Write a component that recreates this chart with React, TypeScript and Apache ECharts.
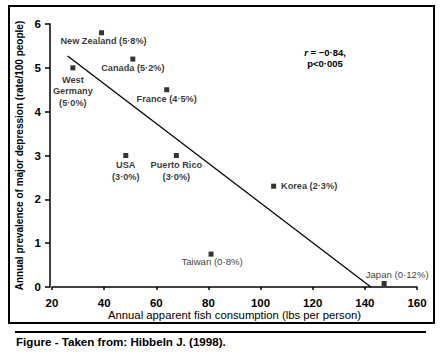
import React, { useEffect, useRef } from "react";
import * as echarts from "echarts";

// Data
const countries = ["New Zealand", "Canada", "West Germany", "France", "USA", "Puerto Rico", "Taiwan", "Korea", "Japan"];
const fishConsumption = [39, 51, 28, 64, 48.3, 67.7, 81, 105, 147.4];
const prevalence = [5.8, 5.2, 5.0, 4.5, 3.0, 3.0, 0.75, 2.3, 0.08];
const prevalenceLabels = ["5·8%", "5·2%", "5·0%", "4·5%", "3·0%", "3·0%", "0·8%", "2·3%", "0·12%"];
const regressionLine = [[26, 5.27], [142.3, 0]];
const xTicks = { min: 20, max: 160, interval: 20 };
const yTicks = { min: 0, max: 6, interval: 1 };

// Label layout (pixel offsets from marker centre), kept apart from data
const labelLayout: { text: (c: string, p: string) => string; dx: number; dy: number; bold: boolean }[] = [
  { text: (c, p) => `${c} (${p})`, dx: 2, dy: 8, bold: true },
  { text: (c, p) => `${c} (${p})`, dx: 0, dy: 9, bold: true },
  { text: (c, p) => `West\nGermany\n(${p})`, dx: 0, dy: 23.5, bold: true },
  { text: (c, p) => `${c} (${p})`, dx: 0, dy: 9, bold: true },
  { text: (c, p) => `${c}\n(${p})`, dx: 0, dy: 15.5, bold: true },
  { text: (c, p) => `${c}\n(${p})`, dx: 0, dy: 15.5, bold: true },
  { text: (c, p) => `${c} (${p})`, dx: 1, dy: 7, bold: false },
  { text: (c, p) => `${c} (${p})`, dx: 35.5, dy: 0, bold: true },
  { text: (c, p) => `${c} (${p})`, dx: 13, dy: -9, bold: false },
];

const FONT = "'Liberation Sans', Arial, Helvetica, sans-serif";

export default function App() {
  const ref = useRef<HTMLDivElement>(null);
  useEffect(() => {
    if (!ref.current) return;
    const chart = echarts.init(ref.current, null, { renderer: "svg" });
    const scatterData = countries.map((c, i) => {
      const l = labelLayout[i];
      return {
        value: [fishConsumption[i], prevalence[i]],
        name: c,
        label: {
          show: true,
          position: "inside",
          offset: [l.dx, l.dy],
          formatter: l.text(c, prevalenceLabels[i]),
          fontWeight: l.bold ? "bold" : "normal",
          fontSize: l.bold ? 9.2 : 9.6,
          lineHeight: 11.5,
          color: "#000",
          fontFamily: FONT,
          align: "center",
          verticalAlign: "middle",
        },
      };
    });
    chart.setOption({
      animation: false,
      backgroundColor: "#fff",
      textStyle: { fontFamily: FONT },
      grid: { left: 52, right: 27, top: 24, bottom: 69, containLabel: false },
      xAxis: {
        type: "value",
        min: xTicks.min,
        max: xTicks.max,
        interval: xTicks.interval,
        offset: 4,
        splitLine: { show: false },
        axisLine: { show: true, lineStyle: { color: "#000", width: 1.5 } },
        axisTick: { show: true, length: 3, lineStyle: { color: "#000", width: 1.5 } },
        axisLabel: { margin: 6, color: "#000", fontSize: 11.5, fontWeight: "bold", fontFamily: FONT },
        name: "Annual apparent fish consumption (lbs per person)",
        nameLocation: "middle",
        nameGap: 18,
        nameMoveOverlap: false,
        nameTextStyle: { color: "#000", fontSize: 11.3, fontFamily: FONT },
      },
      yAxis: {
        type: "value",
        min: yTicks.min,
        max: yTicks.max,
        interval: yTicks.interval,
        offset: 2,
        splitLine: { show: false },
        axisLine: { show: true, lineStyle: { color: "#000", width: 1.5 } },
        axisTick: { show: true, length: 5, lineStyle: { color: "#000", width: 1.5 } },
        axisLabel: { margin: 9, color: "#000", fontSize: 11.5, fontWeight: "bold", fontFamily: FONT },
        name: "Annual prevalence of major depression (rate/100 people)",
        nameLocation: "middle",
        nameRotate: 90,
        nameGap: 26,
        nameMoveOverlap: false,
        nameTextStyle: { color: "#000", fontSize: 10, fontWeight: "bold", fontFamily: FONT },
      },
      series: [
        {
          type: "line",
          data: regressionLine,
          showSymbol: false,
          symbol: "none",
          lineStyle: { color: "#000", width: 1.3 },
          silent: true,
          z: 1,
        },
        {
          type: "scatter",
          data: scatterData,
          symbol: "rect",
          symbolSize: 5,
          itemStyle: { color: "#000" },
          z: 2,
        },
      ],
      graphic: [
        {
          type: "rect",
          shape: { x: 9, y: 6, width: 425, height: 317 },
          style: { fill: "none", stroke: "#000", lineWidth: 2 },
          silent: true,
        },
        {
          type: "line",
          shape: { x1: 15, y1: 332, x2: 426, y2: 332 },
          style: { stroke: "#000", lineWidth: 2 },
          silent: true,
        },
        {
          type: "text",
          x: 16,
          y: 341,
          style: {
            text: "Figure - Taken from: Hibbeln J. (1998).",
            fontFamily: FONT,
            fontSize: 11.6,
            fontWeight: "bold",
            fill: "#000",
            verticalAlign: "middle",
            align: "left",
          },
        },
        {
          type: "text",
          x: 325,
          y: 57.5,
          style: {
            text: "{i|r} = −0·84,\np<0·005",
            fontFamily: FONT,
            fontSize: 9.5,
            fontWeight: "bold",
            lineHeight: 11,
            fill: "#000",
            align: "center",
            verticalAlign: "middle",
            rich: {
              i: { fontStyle: "italic", fontFamily: FONT, fontSize: 9.5, fontWeight: "bold", fill: "#000" },
            },
          },
        },
      ],
    });
    return () => chart.dispose();
  }, []);
  return <div ref={ref} style={{ position: "fixed", left: 0, top: 0, width: 444, height: 356 }} />;
}
